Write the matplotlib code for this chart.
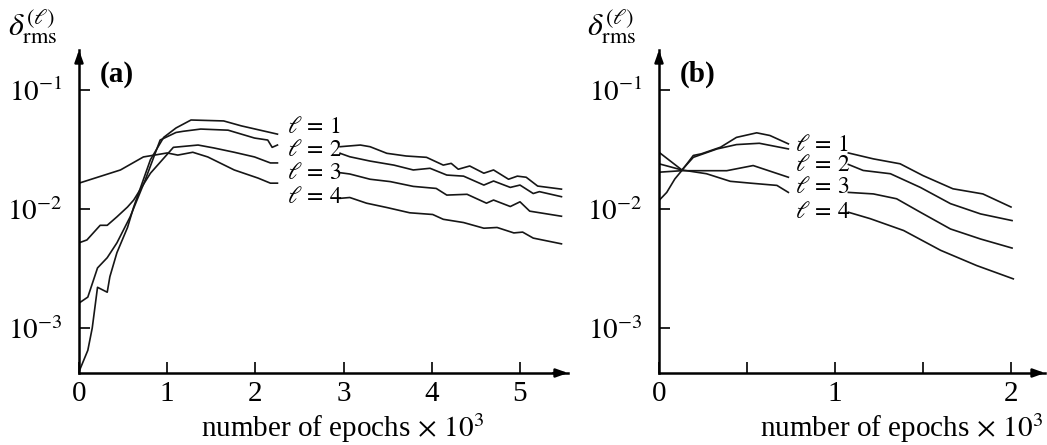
import numpy as np
import matplotlib
matplotlib.use("Agg")
import matplotlib.pyplot as plt

plt.rcParams['font.family'] = ['Liberation Serif', 'DejaVu Serif']
plt.rcParams['mathtext.fontset'] = 'stix'

nan = np.nan

# ---- panel (a): long run, 0..5.5k epochs (gap where the labels sit) ----
a_x = {
    1: [0, 0.10, 0.15, 0.21, 0.32, 0.35, 0.43, 0.55, 0.62, 0.81, 0.96, 1.10, 1.27, 1.64, 1.84, 2.25, nan,
        2.96, 3.19, 3.30, 3.49, 3.71, 3.94, 4.13, 4.22, 4.30, 4.43, 4.59, 4.70, 4.87, 4.97, 5.07, 5.20, 5.47],
    2: [0, 0.10, 0.21, 0.32, 0.43, 0.58, 0.75, 0.92, 1.10, 1.18, 1.38, 1.69, 1.99, 2.14, 2.19, 2.25, nan,
        2.96, 3.07, 3.30, 3.57, 3.79, 3.98, 4.17, 4.36, 4.59, 4.70, 4.89, 5.00, 5.15, 5.22, 5.47],
    3: [0, 0.09, 0.24, 0.32, 0.43, 0.55, 0.62, 0.81, 1.07, 1.35, 1.53, 1.76, 1.99, 2.17, 2.25, nan,
        2.96, 3.07, 3.30, 3.53, 3.79, 4.05, 4.17, 4.40, 4.62, 4.70, 4.89, 5.00, 5.11, 5.47],
    4: [0, 0.47, 0.73, 1.00, 1.12, 1.29, 1.46, 1.76, 2.03, 2.17, 2.25, nan,
        2.96, 3.07, 3.26, 3.49, 3.75, 4.01, 4.13, 4.36, 4.59, 4.74, 4.93, 5.03, 5.15, 5.47],
}
a_y = {
    1: [4.3e-4, 6.5e-4, 1.0e-3, 2.2e-3, 2.0e-3, 2.7e-3, 4.3e-3, 7.0e-3, 1.04e-2, 2.6e-2, 4.0e-2, 4.8e-2,
        5.6e-2, 5.5e-2, 5.0e-2, 4.26e-2, nan,
        3.34e-2, 3.45e-2, 3.34e-2, 2.94e-2, 2.79e-2, 2.72e-2, 2.34e-2, 2.42e-2, 2.16e-2, 2.30e-2,
        2.0e-2, 2.13e-2, 1.78e-2, 1.89e-2, 1.85e-2, 1.56e-2, 1.47e-2],
    2: [1.62e-3, 1.82e-3, 3.2e-3, 3.9e-3, 5.2e-3, 8.6e-3, 1.75e-2, 3.8e-2, 4.4e-2, 4.5e-2, 4.7e-2, 4.6e-2,
        3.95e-2, 3.8e-2, 3.3e-2, 3.45e-2, nan,
        2.94e-2, 2.75e-2, 2.53e-2, 2.34e-2, 2.13e-2, 2.2e-2, 1.93e-2, 1.89e-2, 1.59e-2, 1.72e-2,
        1.52e-2, 1.59e-2, 1.35e-2, 1.40e-2, 1.27e-2],
    3: [5.2e-3, 5.5e-3, 7.3e-3, 7.3e-3, 8.6e-3, 1.04e-2, 1.19e-2, 2.0e-2, 3.3e-2, 3.45e-2, 3.26e-2, 3.0e-2,
        2.74e-2, 2.44e-2, 2.44e-2, nan,
        2.02e-2, 1.97e-2, 1.78e-2, 1.70e-2, 1.55e-2, 1.49e-2, 1.31e-2, 1.33e-2, 1.12e-2, 1.19e-2,
        1.05e-2, 1.15e-2, 9.6e-3, 8.7e-3],
    4: [1.65e-2, 2.13e-2, 2.74e-2, 2.96e-2, 2.84e-2, 3.0e-2, 2.74e-2, 2.13e-2, 1.82e-2, 1.65e-2, 1.65e-2, nan,
        1.23e-2, 1.25e-2, 1.12e-2, 1.03e-2, 9.3e-3, 9.0e-3, 8.2e-3, 7.7e-3, 6.9e-3, 7.0e-3, 6.3e-3,
        6.4e-3, 5.7e-3, 5.1e-3],
}
a_label_x = 2.36
a_label_y = {1: 0.048, 2: 0.0313, 3: 0.020, 4: 0.0126}

# ---- panel (b): short run, 0..2k epochs ----
b_x = {
    1: [0, 0.044, 0.09, 0.13, 0.195, 0.24, 0.35, 0.44, 0.555, 0.63, 0.735, nan,
        1.076, 1.218, 1.37, 1.50, 1.67, 1.84, 2.00],
    2: [0, 0.13, 0.195, 0.33, 0.44, 0.57, 0.735, nan,
        1.076, 1.16, 1.315, 1.485, 1.656, 1.827, 2.006],
    3: [0, 0.13, 0.385, 0.535, 0.735, nan,
        1.076, 1.218, 1.35, 1.485, 1.656, 1.827, 2.006],
    4: [0, 0.13, 0.27, 0.405, 0.52, 0.67, 0.735, nan,
        1.076, 1.20, 1.39, 1.60, 1.805, 2.013],
}
b_y = {
    1: [1.18e-2, 1.38e-2, 1.79e-2, 2.11e-2, 2.82e-2, 2.91e-2, 3.31e-2, 4.0e-2, 4.37e-2, 4.15e-2, 3.53e-2, nan,
        2.96e-2, 2.64e-2, 2.4e-2, 1.91e-2, 1.48e-2, 1.34e-2, 1.04e-2],
    2: [2.4e-2, 2.13e-2, 2.72e-2, 3.2e-2, 3.48e-2, 3.57e-2, 3.2e-2, nan,
        2.37e-2, 2.11e-2, 1.98e-2, 1.52e-2, 1.11e-2, 9.1e-3, 8.0e-3],
    3: [2.04e-2, 2.1e-2, 2.1e-2, 2.32e-2, 1.85e-2, nan,
        1.38e-2, 1.34e-2, 1.22e-2, 9.4e-3, 6.8e-3, 5.6e-3, 4.7e-3],
    4: [3.0e-2, 2.13e-2, 1.98e-2, 1.71e-2, 1.65e-2, 1.58e-2, 1.38e-2, nan,
        9.4e-3, 8.3e-3, 6.6e-3, 4.5e-3, 3.35e-3, 2.59e-3],
}
b_label_x = 0.77
b_label_y = {1: 0.0342, 2: 0.0232, 3: 0.0152, 4: 0.00935}

YLIM = (4.19e-4, 0.217)
FS = 21
LINE = '#161616'


def style_axes(ax, xmax, xticks, xticklabels, tag):
    ax.set_yscale('log')
    ax.set_xlim(0, xmax)
    ax.set_ylim(*YLIM)
    for s in ['top', 'right']:
        ax.spines[s].set_visible(False)
    for s in ['left', 'bottom']:
        ax.spines[s].set_linewidth(1.8)
    ax.set_yticks([1e-3, 1e-2, 1e-1])
    ax.set_yticklabels([r'$10^{-3}$', r'$10^{-2}$', r'$10^{-1}$'])
    ax.yaxis.set_minor_locator(matplotlib.ticker.NullLocator())
    ax.set_xticks(xticks)
    ax.set_xticklabels(xticklabels)
    ax.tick_params(axis='y', direction='in', length=8, width=1.2, pad=12, labelsize=FS)
    ax.tick_params(axis='x', direction='in', length=8, width=1.2, pad=6, labelsize=FS)
    # arrow heads on both axes
    kw = dict(arrowstyle='-|>,head_length=0.7,head_width=0.25', lw=1.8, color='k',
              shrinkA=0, shrinkB=0)
    ax.annotate('', xy=(1.0, 0), xytext=(0.97, 0), xycoords='axes fraction',
                arrowprops=kw, annotation_clip=False)
    ax.annotate('', xy=(0, 1.0), xytext=(0, 0.96), xycoords='axes fraction',
                arrowprops=kw, annotation_clip=False)
    ax.text(0.078 if tag == '(a)' else 0.10, 0.925, tag, transform=ax.transAxes,
            fontsize=FS, fontweight='bold', ha='center', va='center')
    ax.text(-0.094 if tag == '(a)' else -0.122, 1.075, r'$\delta_{\rm rms}^{(\ell)}$',
            transform=ax.transAxes, fontsize=FS + 2, ha='center', va='center')
    ax.text(1.0 - (568 - 484) / 489 if tag == '(a)' else 0.995, -0.17,
            r'number of epochs$\,\times\,10^3$', transform=ax.transAxes,
            fontsize=FS, ha='right', va='center')


fig = plt.figure(figsize=(10.47, 4.45), dpi=100)
ax_a = fig.add_axes([79 / 1047, 72 / 445, 489 / 1047, 323 / 445])
ax_b = fig.add_axes([659 / 1047, 72 / 445, 386 / 1047, 323 / 445])

for l in [1, 2, 3, 4]:
    ax_a.plot(a_x[l], a_y[l], color=LINE, lw=1.2)
    ax_a.text(a_label_x, a_label_y[l], r'$\ell\,=\,%d$' % l, fontsize=FS - 4,
              ha='left', va='center')
    ax_b.plot(b_x[l], b_y[l], color=LINE, lw=1.2)
    ax_b.text(b_label_x, b_label_y[l], r'$\ell\,=\,%d$' % l, fontsize=FS - 4,
              ha='left', va='center')

style_axes(ax_a, 489 / 88.2, [0, 1, 2, 3, 4, 5], ['0', '1', '2', '3', '4', '5'], '(a)')
style_axes(ax_b, 386 / 176, [0, 0.5, 1, 1.5, 2], ['0', '', '1', '', '2'], '(b)')

fig.savefig('out.png', dpi=100)
